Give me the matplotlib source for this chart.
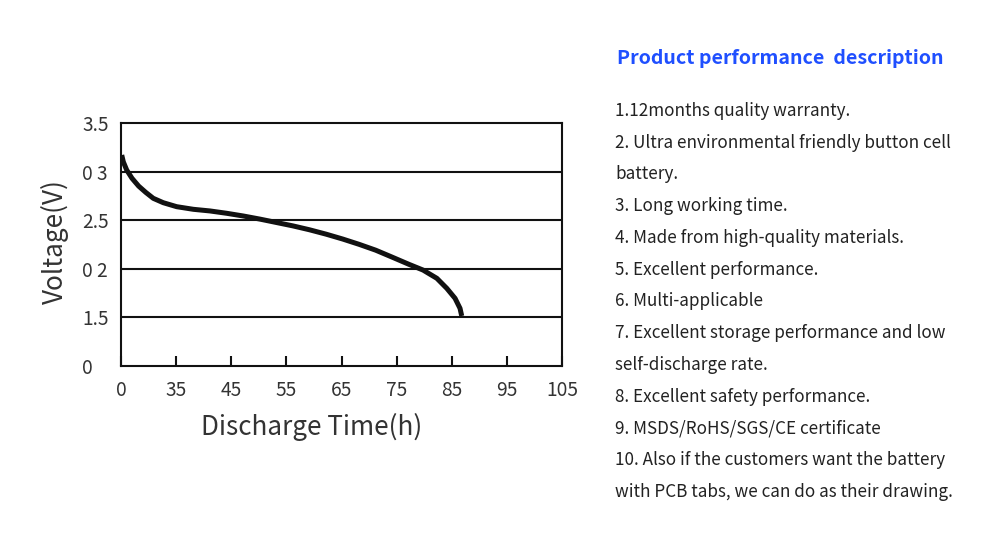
import matplotlib
matplotlib.use("Agg")
import matplotlib.pyplot as plt

plt.rcParams['font.family'] = ['Noto Sans CJK SC', 'DejaVu Sans']

# discharge curve (axis runs 25..105 h, first label printed as "0")
time_h = [25.13, 25.42, 26.03, 27.0, 28.2, 29.5, 30.86, 32.67, 35.10, 38.12,
          41.15, 44.17, 47.19, 50.2, 53.2, 56.2, 59.2, 62.2, 65.2, 68.2,
          71.2, 74.2, 77.2, 79.8, 82.3, 84.1, 85.6, 86.5, 86.81]
voltage = [3.17, 3.10, 3.016, 2.93, 2.85, 2.785, 2.724, 2.679, 2.638, 2.611,
           2.594, 2.570, 2.542, 2.51, 2.475, 2.44, 2.40, 2.355, 2.305, 2.25,
           2.19, 2.118, 2.045, 1.985, 1.90, 1.797, 1.694, 1.591, 1.512]

x_ticks = [25, 35, 45, 55, 65, 75, 85, 95, 105]
x_labels = ['0', '35', '45', '55', '65', '75', '85', '95', '105']
y_ticks = [1.0, 1.5, 2.0, 2.5, 3.0, 3.5]
y_labels = ['0', '1.5', '0 2', '2.5', '0 3', '3.5']
grid_levels = [1.5, 2.0, 2.5, 3.0]

title = "Product performance  description"
lines = [
    "1.12months quality warranty.",
    "2. Ultra environmental friendly button cell",
    "battery.",
    "3. Long working time.",
    "4. Made from high-quality materials.",
    "5. Excellent performance.",
    "6. Multi-applicable",
    "7. Excellent storage performance and low",
    "self-discharge rate.",
    "8. Excellent safety performance.",
    "9. MSDS/RoHS/SGS/CE certificate",
    "10. Also if the customers want the battery",
    "with PCB tabs, we can do as their drawing.",
]

W, H = 1000, 539
fig = plt.figure(figsize=(W / 100, H / 100), dpi=100)
ax = fig.add_axes([121 / W, 1 - 365.7 / H, 441 / W, 242.7 / H])

for lvl in grid_levels:
    ax.axhline(lvl, color='#111111', lw=1.5, zorder=1)

ax.plot(time_h, voltage, color='#111111', lw=3.6, solid_capstyle='butt',
        solid_joinstyle='round', zorder=3)

ax.set_xlim(25, 105)
ax.set_ylim(1.0, 3.5)
ax.set_xticks(x_ticks)
ax.set_xticklabels(x_labels)
ax.set_yticks(y_ticks)
ax.set_yticklabels(y_labels, ha='left')

ax.tick_params(axis='x', direction='in', length=7, width=1.5, color='#111111',
               labelsize=13.8, labelcolor='#333333', pad=10)
ax.tick_params(axis='y', length=0, labelsize=13.8, labelcolor='#333333', pad=28)
for s in ax.spines.values():
    s.set_linewidth(1.5)
    s.set_color('#111111')

fig.text(55 / W, 1 - 242 / H, "Voltage(V)", rotation=90, ha='center', va='center',
         fontsize=18.8, color='#333333')
fig.text(312 / W, 1 - 427 / H, "Discharge Time(h)", ha='center', va='center',
         fontsize=18.8, color='#333333')

fig.text(617 / W, 1 - 58 / H, title, ha='left', va='center', fontsize=14.1,
         fontweight='bold', color='#1f4fff')
y0 = 111
for i, t in enumerate(lines):
    fig.text(615 / W, 1 - (y0 + i * 31.75) / H, t, ha='left', va='center',
             fontsize=12.3, color='#222222')

fig.savefig('out.png', dpi=100)
